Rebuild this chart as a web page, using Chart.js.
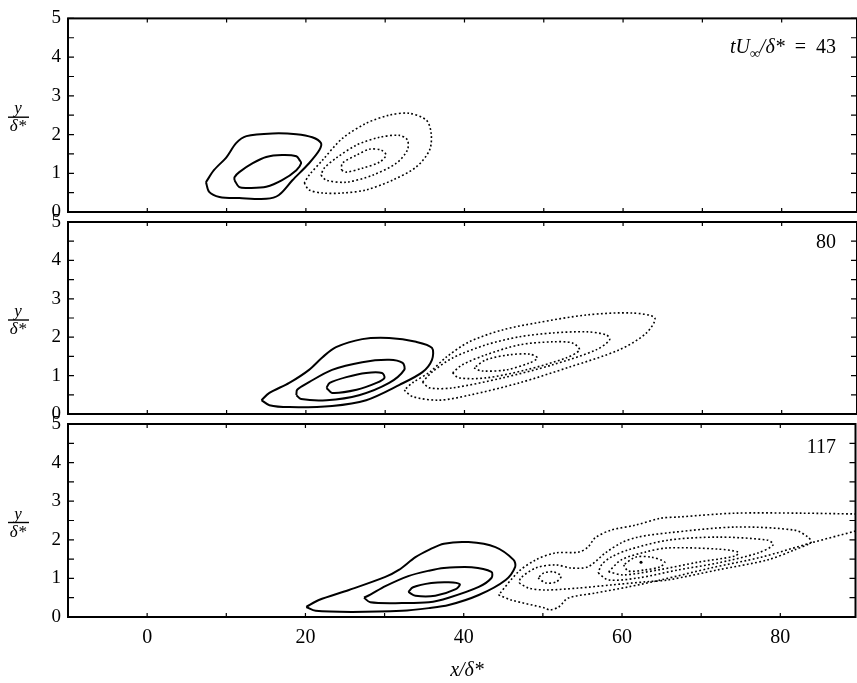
<!DOCTYPE html>
<html>
<head>
  <title>Contours</title>
  <script src="https://cdn.jsdelivr.net/npm/chart.js"></script>
  <style>
    body { margin: 0; background: #fff; }
    #wrap { position: relative; width: 857px; height: 683px; }
    #wrap canvas { position: absolute; left: 0; top: 0; }
  </style>
</head>
<body>
  <div id="wrap">
    <canvas id="p1" width="857" height="683"></canvas>
    <canvas id="p2" width="857" height="683"></canvas>
    <canvas id="p3" width="857" height="683"></canvas>
  </div>

  <script>
    // axes
    const xTickLabels = [0, 20, 40, 60, 80];
    const xMinorTicks = [0, 10, 20, 30, 40, 50, 60, 70, 80];
    const yMinorTicks = [0, 0.5, 1, 1.5, 2, 2.5, 3, 3.5, 4, 4.5, 5];
    const panelTimes = ['43', '80', '117'];

    // tU/δ* = 43
    const p1SolidOuter = [[7.4,0.77],[7.8,0.52],[9.1,0.39],[11.6,0.36],[15.0,0.34],[16.6,0.44],[18.3,0.82],[20.4,1.26],[21.7,1.6],[21.9,1.78],[20.8,1.93],[18.8,2.01],[15.8,2.03],[12.5,1.96],[11.2,1.78],[10.0,1.42],[8.4,1.08]];
    const p1SolidInner = [[11.0,0.82],[11.6,0.64],[12.9,0.62],[15.0,0.65],[17.0,0.82],[18.8,1.08],[19.4,1.26],[19.2,1.34],[18.8,1.44],[17.0,1.47],[15.0,1.42],[13.3,1.26],[11.6,1.03],[11.0,0.9]];
    const p1DotOuter = [[19.8,0.75],[20.4,0.57],[22.1,0.49],[24.6,0.49],[27.6,0.57],[30.9,0.82],[33.9,1.16],[35.6,1.6],[35.8,2.03],[35.2,2.37],[33.0,2.55],[30.5,2.5],[27.6,2.29],[24.6,1.9],[22.1,1.34],[20.4,0.95]];
    const p1DotMid = [[21.9,0.95],[22.6,0.82],[25.1,0.77],[28.4,0.95],[31.4,1.26],[32.8,1.6],[32.8,1.86],[31.8,1.98],[29.3,1.93],[26.4,1.73],[23.8,1.39],[22.3,1.13]];
    const p1DotInner = [[24.5,1.08],[25.1,1.03],[27.1,1.13],[29.3,1.29],[30.1,1.47],[29.5,1.6],[28.0,1.62],[26.4,1.47],[24.6,1.26]];

    // 80
    const p2SolidOuter = [[14.4,0.36],[15.4,0.23],[17.9,0.18],[23.3,0.21],[27.6,0.36],[31.8,0.76],[34.7,1.09],[35.9,1.41],[35.9,1.72],[33.9,1.88],[30.5,1.98],[27.1,1.95],[23.8,1.74],[22.1,1.48],[20.4,1.15],[17.9,0.81],[15.4,0.55]];
    const p2SolidMid = [[18.8,0.49],[19.4,0.39],[22.6,0.36],[26.7,0.49],[30.5,0.81],[32.4,1.15],[32.2,1.33],[30.5,1.41],[27.1,1.35],[23.3,1.15],[20.4,0.83],[18.9,0.63]];
    const p2SolidInner = [[22.6,0.68],[23.3,0.55],[26.4,0.63],[28.9,0.81],[29.9,0.94],[29.6,1.07],[27.6,1.07],[25.1,0.96],[23.0,0.81]];
    const p2DotOuter = [[32.4,0.62],[33.5,0.45],[36.8,0.36],[40.6,0.49],[46.9,0.81],[53.2,1.22],[59.5,1.67],[62.9,2.1],[64.0,2.5],[61.2,2.63],[55.4,2.58],[49.0,2.37],[44.8,2.19],[40.6,1.88],[37.7,1.48],[35.6,1.09],[33.5,0.82]];
    const p2DotB = [[34.7,0.83],[35.6,0.68],[38.5,0.68],[44.8,0.94],[51.1,1.28],[56.6,1.67],[58.3,1.93],[57.9,2.06],[55.4,2.14],[51.1,2.11],[46.9,2.01],[42.7,1.8],[38.5,1.46],[35.9,1.09]];
    const p2DotC = [[38.5,1.07],[39.3,0.94],[42.7,0.94],[47.8,1.15],[52.8,1.46],[54.5,1.67],[53.6,1.85],[51.1,1.88],[46.9,1.8],[42.7,1.54],[39.7,1.28]];
    const p2DotD = [[41.2,1.2],[42.2,1.12],[45.3,1.15],[48.2,1.33],[49.2,1.46],[48.2,1.56],[45.6,1.54],[42.7,1.41]];

    // 117
    const p3SolidOuter = [[20.1,0.26],[21.3,0.16],[25.9,0.13],[32.2,0.16],[35.6,0.23],[38.1,0.31],[41.9,0.57],[45.3,0.96],[46.5,1.3],[46.3,1.48],[44.0,1.81],[40.6,1.94],[37.5,1.9],[35.6,1.74],[33.9,1.55],[31.8,1.22],[30.1,1.04],[25.5,0.7],[21.7,0.44]];
    const p3SolidMid = [[27.4,0.5],[28.2,0.38],[32.2,0.36],[35.6,0.38],[38.1,0.5],[41.9,0.78],[43.5,1.01],[43.5,1.17],[41.0,1.29],[37.5,1.27],[35.6,1.2],[33.0,1.06],[30.1,0.8],[28.2,0.58]];
    const p3SolidInner = [[33.0,0.65],[33.9,0.55],[36.4,0.55],[39.0,0.72],[39.5,0.85],[38.1,0.9],[35.9,0.88],[33.6,0.77]];
    const p3DotOuter = [[44.4,0.57],[46.0,0.44],[50.3,0.23],[50.9,0.18],[52.0,0.26],[53.2,0.49],[56.6,0.62],[60.8,0.78],[64.9,0.96],[71.2,1.27],[77.6,1.55],[83.9,1.92],[89.4,2.22],[92.0,2.35],[92.0,2.67],[89.4,2.67],[82.6,2.69],[74.3,2.69],[67.1,2.59],[64.9,2.56],[61.7,2.38],[58.6,2.25],[56.6,2.05],[55.7,1.81],[54.5,1.68],[51.6,1.66],[49.1,1.48],[46.9,1.17]];
    const p3DotB = [[47.0,0.88],[48.2,0.75],[50.3,0.7],[54.5,0.75],[58.6,0.83],[62.9,0.91],[65.8,0.96],[72.1,1.22],[78.4,1.48],[81.8,1.74],[83.9,1.94],[83.5,2.07],[81.8,2.25],[74.3,2.33],[65.8,2.18],[62.0,2.07],[59.9,1.92],[57.9,1.66],[55.7,1.3],[53.6,1.27],[51.6,1.35],[49.1,1.27],[47.2,1.01]];
    const p3DotSmall = [[49.4,1.01],[50.4,0.88],[51.7,0.91],[52.3,1.06],[51.3,1.17],[50.1,1.14]];
    const p3DotC = [[57.0,1.14],[58.3,0.96],[62.0,1.01],[67.1,1.22],[72.1,1.4],[77.2,1.66],[79.1,1.87],[78.4,1.99],[72.1,2.07],[65.8,1.99],[60.8,1.74],[58.6,1.55],[57.4,1.35]];
    const p3DotD = [[58.3,1.17],[60.2,1.09],[64.6,1.22],[69.6,1.42],[74.3,1.58],[74.7,1.68],[72.1,1.76],[65.8,1.79],[62.9,1.68],[59.9,1.48]];
    const p3DotE = [[60.2,1.35],[60.8,1.19],[62.9,1.22],[64.8,1.3],[65.4,1.42],[63.7,1.55],[61.7,1.55]];
    const p3Peak = [[62.4,1.42]];

    const SERIF = '"Liberation Serif", "DejaVu Serif", serif';

    function loop(pts) {
      return pts.concat([pts[0]]).map(([x, y]) => ({ x, y }));
    }
    function solid(pts) {
      return { data: loop(pts), showLine: true, borderColor: '#000', borderWidth: 2,
               pointRadius: 0, tension: 0.3, fill: false };
    }
    function dotted(pts) {
      return { data: loop(pts), showLine: true, borderColor: '#000', borderWidth: 1.6,
               borderDash: [1.8, 2.4], pointRadius: 0, tension: 0.3, fill: false };
    }

    // frame, inward ticks, x labels, fraction label, time label
    const framePlugin = {
      id: 'frame',
      afterDraw(chart, args, opts) {
        const { ctx, chartArea: a, scales: { x, y } } = chart;
        ctx.save();
        ctx.strokeStyle = '#000';
        ctx.fillStyle = '#000';
        ctx.lineWidth = 2;
        ctx.strokeRect(a.left, a.top, a.right - a.left, a.bottom - a.top);
        ctx.lineWidth = 1.2;
        ctx.beginPath();
        xMinorTicks.forEach(v => {
          const px = x.getPixelForValue(v);
          ctx.moveTo(px, a.top); ctx.lineTo(px, a.top + 4);
          ctx.moveTo(px, a.bottom); ctx.lineTo(px, a.bottom - 4);
        });
        yMinorTicks.forEach(v => {
          const py = y.getPixelForValue(v);
          ctx.moveTo(a.left, py); ctx.lineTo(a.left + 6, py);
          ctx.moveTo(a.right, py); ctx.lineTo(a.right - 6, py);
        });
        ctx.stroke();

        // y / δ*
        const ly = (a.top + a.bottom) / 2 + 2;
        ctx.font = 'italic 17px ' + SERIF;
        ctx.textAlign = 'center';
        ctx.textBaseline = 'alphabetic';
        ctx.fillText('y', 18, ly - 4);
        ctx.fillText('δ*', 18, ly + 14);
        ctx.lineWidth = 1.4;
        ctx.beginPath();
        ctx.moveTo(8, ly); ctx.lineTo(29, ly);
        ctx.stroke();

        // time label, right aligned
        const parts = opts.parts;
        let w = 0;
        parts.forEach(p => { ctx.font = p.f; p.w = ctx.measureText(p.t).width; w += p.w; });
        let cx = 836 - w;
        ctx.textAlign = 'left';
        parts.forEach(p => {
          ctx.font = p.f;
          ctx.fillText(p.t, cx, a.top + opts.base + (p.dy || 0));
          cx += p.w;
        });

        if (opts.xTitle) {
          // x tick labels from the x scale
          ctx.font = '20px ' + SERIF;
          ctx.textAlign = 'center';
          xTickLabels.forEach(v => ctx.fillText(String(v), x.getPixelForValue(v), a.bottom + 26));
          ctx.font = 'italic 20px ' + SERIF;
          ctx.fillText('x/δ*', 467, 676);
        }
        ctx.restore();
      }
    };

    function makePanel(id, datasets, o) {
      return new Chart(document.getElementById(id), {
        type: 'scatter',
        data: { datasets },
        plugins: [framePlugin],
        options: {
          responsive: false,
          animation: false,
          layout: { padding: { top: o.top, bottom: 683 - o.bottom - 1, left: 0, right: 0 } },
          plugins: {
            legend: { display: false },
            tooltip: { enabled: false },
            frame: { parts: o.parts, base: o.base, xTitle: o.xTitle }
          },
          scales: {
            x: {
              type: 'linear', min: -10, max: 89.5,
              grid: { display: false, drawTicks: false },
              border: { display: false },
              afterFit: s => { s.height = 1; },
              ticks: { display: false }
            },
            y: {
              min: 0, max: 5,
              grid: { display: false, drawTicks: false },
              border: { display: false },
              afterFit: s => { s.width = 68; },
              ticks: { stepSize: 1, padding: 7, color: '#000', font: { family: SERIF, size: 19 } }
            }
          }
        }
      });
    }

    const big = s => s + 'px ' + SERIF;

    makePanel('p1', [
      solid(p1SolidOuter), solid(p1SolidInner),
      dotted(p1DotOuter), dotted(p1DotMid), dotted(p1DotInner)
    ], {
      top: 18, bottom: 212, base: 35, xTitle: false,
      parts: [
        { t: 't', f: 'italic ' + big(20) },
        { t: 'U', f: 'italic ' + big(20) },
        { t: '∞', f: 'italic ' + big(14), dy: 5 },
        { t: '/δ*', f: 'italic ' + big(20) },
        { t: '\u2002=\u2002' + panelTimes[0], f: big(20) }
      ]
    });

    makePanel('p2', [
      solid(p2SolidOuter), solid(p2SolidMid), solid(p2SolidInner),
      dotted(p2DotOuter), dotted(p2DotB), dotted(p2DotC), dotted(p2DotD)
    ], {
      top: 222, bottom: 414, base: 26, xTitle: false,
      parts: [{ t: panelTimes[1], f: big(20) }]
    });

    // hover radius 0 so the point does not add layout padding
    const peak = { data: p3Peak.map(([x, y]) => ({ x, y })), pointRadius: 1.5,
                   pointHoverRadius: 0, pointHitRadius: 0,
                   backgroundColor: '#000', borderWidth: 0, showLine: false };

    makePanel('p3', [
      solid(p3SolidOuter), solid(p3SolidMid), solid(p3SolidInner),
      dotted(p3DotOuter), dotted(p3DotB), dotted(p3DotSmall),
      dotted(p3DotC), dotted(p3DotD), dotted(p3DotE), peak
    ], {
      top: 424, bottom: 617, base: 29, xTitle: true,
      parts: [{ t: panelTimes[2], f: big(20) }]
    });
  </script>
</body>
</html>
